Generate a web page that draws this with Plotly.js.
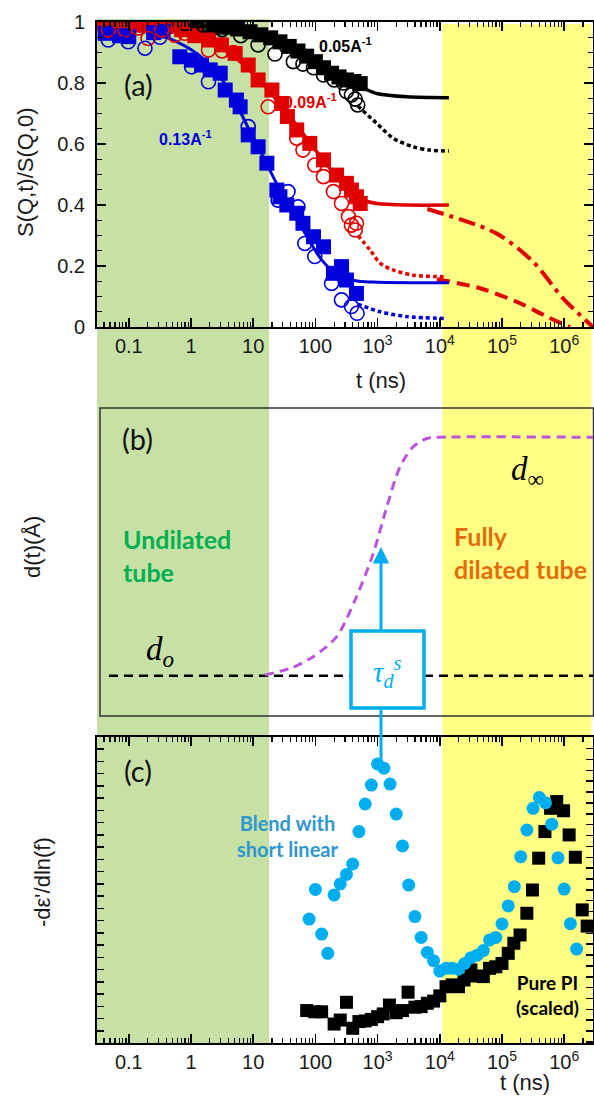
<!DOCTYPE html>
<html><head><meta charset="utf-8">
<script src="https://cdn.plot.ly/plotly-3.0.1.min.js"></script>
<style>html,body{margin:0;padding:0;background:#fff}#chart{width:594px;height:1097px}</style>
</head><body><div id="chart"></div>
<script>
// ---------- Panel (a): S(Q,t)/S(Q,0) ----------
const blackSqT = [0.0398,0.0708,0.126,0.224,0.398,0.708,1.26,2.24,3.55,5.62,8.91,13.2,19.1,26.9,38.0,52.5,72.4,100,135,182,240,316,417,525];
const blackSqV = [0.998,0.997,0.995,0.995,0.993,0.99,0.99,0.987,0.983,0.977,0.968,0.958,0.948,0.935,0.92,0.905,0.888,0.87,0.85,0.832,0.82,0.81,0.805,0.798];
const blackCiT = [0.794,1.58,3.16,6.31,12.0,22.4,44.2,63.1,93.3,135,200,282,316,380,437,479];
const blackCiV = [0.995,0.99,0.975,0.955,0.925,0.895,0.87,0.862,0.85,0.826,0.81,0.80,0.772,0.761,0.747,0.728];
const redSqT = [0.0398,0.0708,0.126,0.224,0.398,0.708,1.15,1.91,3.09,5.13,8.32,12.0,20.0,28.8,35.5,50.1,81.3,135,219,316,380,457,525];
const redSqV = [0.995,0.993,0.99,0.988,0.985,0.975,0.955,0.941,0.925,0.897,0.859,0.81,0.777,0.733,0.69,0.646,0.602,0.548,0.498,0.471,0.449,0.427,0.405];
const redCiT = [0.0468,0.0871,0.141,0.204,0.339,0.550,0.794,1.91,3.16,4.79,17.4,50.1,63.1,97.7,135,195,263,339,380,437,457];
const redCiV = [0.974,0.974,0.98,0.946,0.974,0.957,0.963,0.908,0.905,0.90,0.722,0.619,0.58,0.531,0.493,0.444,0.405,0.362,0.334,0.318,0.34];
const blueSqT = [0.0417,0.0708,0.1,0.251,0.355,0.661,1.02,1.48,2.04,2.95,3.55,5.37,6.17,8.32,12.0,16.6,24.0,26.9,34.7,50.1,63.1,93.3,135,195,263,316,457];
const blueSqV = [0.963,0.955,0.952,0.965,0.97,0.886,0.875,0.859,0.843,0.832,0.777,0.744,0.722,0.63,0.591,0.537,0.449,0.427,0.40,0.373,0.34,0.296,0.263,0.176,0.198,0.154,0.11];
const blueCiT = [0.0468,0.0977,0.182,0.316,1.02,1.91,8.32,25.1,36.3,52.5,67.6,97.7,182,263,380,468];
const blueCiV = [0.941,0.935,0.914,0.95,0.853,0.804,0.657,0.416,0.444,0.394,0.274,0.231,0.143,0.089,0.067,0.045];
// fit curves
const blackFitT = [0.03,1,10,30,100,200,400,630,1000,3000,14000];
const blackFitV = [0.998,0.99,0.965,0.935,0.87,0.83,0.80,0.78,0.765,0.755,0.752];
const blackDotT = [480,966,1780,3720,6920,14000];
const blackDotV = [0.725,0.668,0.619,0.591,0.58,0.577];
const redFitT = [0.03,0.3,1,3,10,30,100,250,500,1000,3000,14000];
const redFitV = [0.995,0.98,0.955,0.92,0.83,0.72,0.58,0.48,0.42,0.405,0.40,0.40];
const redDotT = [480,759,1100,1780,3720,11500];
const redDotV = [0.30,0.252,0.209,0.187,0.17,0.165];
const redDashT = [9000,44700,195000,525000,1230000];
const redDashV = [0.157,0.127,0.078,0.034,0];
const redDashDotT = [6300,81000,316000,950000,2900000];
const redDashDotV = [0.387,0.307,0.214,0.095,0];
const blueFitT = [0.03,0.1,0.3,1,2,4,8,16,32,63,126,250,500,1000,14000];
const blueFitV = [0.98,0.975,0.96,0.91,0.86,0.78,0.66,0.54,0.42,0.32,0.22,0.165,0.15,0.147,0.145];
const blueDotT = [480,1100,2950,13000];
const blueDotV = [0.075,0.05,0.034,0.028];

// ---------- Panel (b): d(t) ----------
const dtT = [15.5,26.9,43.6,93.3,219,457,851,1410,2290,3720,6170,10000,2900000];
const dtV = [0.133,0.145,0.158,0.193,0.257,0.387,0.528,0.68,0.809,0.874,0.901,0.905,0.905];
const d0T = [0.048,2900000];
const d0V = [0.131,0.131];

// ---------- Panel (c): -dε'/dln(f) ----------
const blendT = [79.4,100,126,158,200,251,316,398,501,631,794,1000,1259,1585,1995,2512,3162,3981,5012,6310,7943,10000,12600,15800,20000,25100,31600,39800,50100,63100,79400,100000,126000,158000,200000,251000,316000,398000,501000,631000,794000,1000000,1260000,1580000];
const blendV = [0.405,0.502,0.356,0.293,0.484,0.52,0.551,0.585,0.691,0.781,0.843,0.912,0.898,0.846,0.748,0.644,0.516,0.413,0.345,0.296,0.269,0.235,0.244,0.244,0.241,0.26,0.279,0.287,0.302,0.337,0.345,0.389,0.448,0.511,0.609,0.696,0.767,0.802,0.785,0.715,0.605,0.503,0.39,0.307];
const pureT = [72.4,97.7,126,200,251,316,398,501,631,794,1000,1230,1550,1995,2512,3090,3981,5012,6310,7943,10000,12600,15800,20000,24500,31600,38900,50100,63100,79400,100000,126000,155000,195000,251000,309000,389000,490000,603000,759000,977000,1200000,1510000,1950000,2340000];
const pureV = [0.106,0.102,0.102,0.062,0.075,0.133,0.048,0.07,0.072,0.077,0.086,0.095,0.124,0.099,0.106,0.166,0.117,0.119,0.13,0.137,0.154,0.184,0.19,0.184,0.206,0.239,0.219,0.217,0.244,0.249,0.26,0.293,0.326,0.353,0.424,0.50,0.604,0.691,0.767,0.789,0.759,0.68,0.607,0.435,0.382];

// shaded time windows
const greenSpan = [0.0308, 18];
const yellowSpan = [11000, 2750000];

// tick labels
const tickVals = [0.1,1,10,100,1000,10000,100000,1000000];
const tickText = ['0.1','1','10','100','10<sup>3</sup>','10<sup>4</sup>','10<sup>5</sup>','10<sup>6</sup>'];
const yTickVals = [0,0.2,0.4,0.6,0.8,1];
const yTickText = ['0','0.2','0.4','0.6','0.8','1'];

const minorVals = [];
for (let e = -2; e <= 6; e++) for (let m = 2; m <= 9; m++) minorVals.push(m * Math.pow(10, e));

// ---------- layout helpers ----------
const W = 594, H = 1097;
const X = p => p / W;
const Y = p => 1 - p / H;
const SANS = 'Liberation Sans, Arial, sans-serif';
const CAL = 'Lato, Open Sans, sans-serif';
const SERIF = 'Liberation Serif, Times New Roman, serif';
const CYAN = '#00aeef';
const RED = '#e00000';
const BLUE = '#0000dd';
const xRange = [-1.511, 6.463];
const xDom = [X(97), X(593)];

function xAxisCfg(anchor) {
  return {domain: xDom, anchor: anchor, type: 'log', range: xRange, showline: true, linecolor: '#000', linewidth: 2,
    mirror: 'ticks', ticks: 'inside', ticklen: 9, tickwidth: 1.5, tickcolor: '#000',
    tickmode: 'array', tickvals: tickVals, ticktext: tickText,
    tickfont: {family: SANS, size: 20, color: '#1a1a1a'},
    minor: {ticks: 'inside', ticklen: 5, tickwidth: 1.2, tickcolor: '#000', tickmode: 'array', tickvals: minorVals},
    showgrid: false, zeroline: false};
}

function sq(t, v, color, xa, ya, size) {
  return {x: t, y: v, xaxis: xa, yaxis: ya, mode: 'markers', type: 'scatter', showlegend: false,
    marker: {symbol: 'square', size: size || 15, color: color}};
}
function ci(t, v, color, xa, ya) {
  return {x: t, y: v, xaxis: xa, yaxis: ya, mode: 'markers', type: 'scatter', showlegend: false,
    marker: {symbol: 'circle-open', size: 14, color: color, line: {width: 1.6, color: color}}};
}
function ln(t, v, color, dash, width, xa, ya) {
  return {x: t, y: v, xaxis: xa || 'x', yaxis: ya || 'y', mode: 'lines', type: 'scatter', showlegend: false,
    line: {color: color, dash: dash, width: width, shape: 'spline', smoothing: 0.8}};
}

const traces = [
  ln(blackFitT, blackFitV, '#000', 'solid', 3.5),
  ln(blackDotT, blackDotV, '#000', '4px,3px', 3.5),
  ln(redFitT, redFitV, RED, 'solid', 3.5),
  ln(redDotT, redDotV, RED, '4px,3px', 3.5),
  ln(redDashT, redDashV, RED, '13px,7px', 4),
  ln(redDashDotT, redDashDotV, RED, '17px,6px,4px,6px', 4),
  ln(blueFitT, blueFitV, BLUE, 'solid', 3),
  ln(blueDotT, blueDotV, BLUE, '4px,3px', 3.5),
  sq(blackSqT, blackSqV, '#000', 'x', 'y'),
  sq(redSqT, redSqV, RED, 'x', 'y'),
  sq(blueSqT, blueSqV, BLUE, 'x', 'y'),
  ci(blackCiT, blackCiV, '#000', 'x', 'y'),
  ci(redCiT, redCiV, RED, 'x', 'y'),
  ci(blueCiT, blueCiV, BLUE, 'x', 'y'),
  // panel b
  {x: d0T, y: d0V, xaxis: 'x2', yaxis: 'y2', mode: 'lines', showlegend: false, line: {color: '#000', dash: '9px,6px', width: 2.5}},
  ln(dtT, dtV, '#bb55dd', '9px,6px', 3, 'x2', 'y2'),
  // panel c
  sq(pureT, pureV, '#000', 'x3', 'y3', 13),
  {x: blendT, y: blendV, xaxis: 'x3', yaxis: 'y3', mode: 'markers', showlegend: false, marker: {symbol: 'circle', size: 13, color: CYAN}},
  {x: [], y: [], xaxis: 'x3', yaxis: 'y4', mode: 'markers', showlegend: false}
];

const ann = (x, y, text, font, extra) => Object.assign({xref: 'paper', yref: 'paper', x: X(x), y: Y(y), text: text,
  showarrow: false, font: font, xanchor: 'center', yanchor: 'middle'}, extra || {});

const layout = {
  width: W, height: H, margin: {l: 0, r: 0, t: 0, b: 0}, showlegend: false,
  paper_bgcolor: '#fff', plot_bgcolor: 'rgba(0,0,0,0)',
  xaxis: xAxisCfg('y'),
  yaxis: {domain: [Y(327), Y(22)], anchor: 'x', range: [0, 1], showline: true, linecolor: '#000', linewidth: 2,
    mirror: 'ticks', ticks: 'inside', ticklen: 9, tickwidth: 1.5, tickcolor: '#000',
    tickmode: 'array', tickvals: yTickVals, ticktext: yTickText, ticklabelstandoff: 6,
    tickfont: {family: SANS, size: 20, color: '#1a1a1a'},
    minor: {ticks: 'inside', ticklen: 5, tickwidth: 1.2, tickcolor: '#000', dtick: 0.05, tick0: 0},
    showgrid: false, zeroline: false},
  xaxis2: {domain: xDom, anchor: 'y2', type: 'log', range: xRange, visible: false},
  yaxis2: {domain: [Y(716), Y(408)], anchor: 'x2', range: [0, 1], visible: false},
  xaxis3: xAxisCfg('y3'),
  yaxis3: {domain: [Y(1043), Y(737)], anchor: 'x3', range: [0, 1], showline: true, linecolor: '#000', linewidth: 2,
    mirror: true, ticks: 'inside', ticklen: 7, tickwidth: 1.5, tickcolor: '#000', tick0: 0, dtick: 0.04,
    showticklabels: false, showgrid: false, zeroline: false},
  yaxis4: {overlaying: 'y3', anchor: 'x3', side: 'right', range: [0, 1], showline: false, ticks: 'inside', ticklen: 7,
    tickwidth: 1.5, tickcolor: '#000', tick0: 0.039, dtick: 0.0355, showticklabels: false, showgrid: false, zeroline: false},
  shapes: [
    {type: 'rect', layer: 'below', xref: 'x', yref: 'paper', x0: greenSpan[0], x1: greenSpan[1], y0: Y(1043), y1: Y(19),
      fillcolor: '#c6e0a6', line: {width: 0}},
    {type: 'rect', layer: 'below', xref: 'x', yref: 'paper', x0: yellowSpan[0], x1: yellowSpan[1], y0: Y(1043), y1: Y(24),
      fillcolor: '#ffff85', line: {width: 0}},
    {type: 'rect', layer: 'below', xref: 'paper', yref: 'paper', x0: X(100), x1: X(593.5), y0: Y(716), y1: Y(408),
      line: {color: '#333', width: 1.5}},
    {type: 'line', layer: 'above', xref: 'paper', yref: 'paper', x0: X(381), x1: X(381), y0: Y(706), y1: Y(760),
      line: {color: CYAN, width: 3}},
    {type: 'rect', layer: 'above', xref: 'paper', yref: 'paper', x0: X(351), x1: X(424), y0: Y(708), y1: Y(631),
      fillcolor: '#fff', line: {color: CYAN, width: 3.5}}
  ],
  annotations: [
    // axis titles
    ann(25, 172, 'S(Q,t)/S(Q,0)', {family: SANS, size: 22, color: '#1a1a1a'}, {textangle: -90}),
    ann(381, 381, 't (ns)', {family: SANS, size: 22, color: '#1a1a1a'}),
    ann(32, 547, 'd(t)(Å)', {family: SANS, size: 22, color: '#1a1a1a'}, {textangle: -90}),
    ann(42, 882, "-dε'/dln(f)", {family: SANS, size: 22, color: '#1a1a1a'}, {textangle: -90}),
    ann(525, 1082, 't (ns)', {family: SANS, size: 22, color: '#1a1a1a'}),
    // panel labels
    ann(138, 84, '(a)', {family: CAL, size: 29, color: '#111'}),
    ann(137, 438, '(b)', {family: CAL, size: 29, color: '#111'}),
    ann(138, 770, '(c)', {family: CAL, size: 29, color: '#111'}),
    // Q labels
    ann(345, 45, '<b>0.05A<sup>-1</sup></b>', {family: SANS, size: 16, color: '#000'}),
    ann(310, 101, '<b>0.09A<sup>-1</sup></b>', {family: SANS, size: 16, color: RED}),
    ann(185, 138, '<b>0.13A<sup>-1</sup></b>', {family: SANS, size: 16, color: BLUE}),
    // panel b texts
    ann(121, 556, '<b>Undilated<br>tube</b>', {family: CAL, size: 25, color: '#00b050'}, {xanchor: 'left', align: 'left'}),
    ann(452, 552, '<b>Fully<br>dilated tube</b>', {family: CAL, size: 25, color: '#e46c0a'}, {xanchor: 'left', align: 'left'}),
    ann(160, 651, '<i>d</i><sub><i>o</i></sub>', {family: SERIF, size: 33, color: '#000'}),
    ann(527, 472, '<i>d</i><sub>∞</sub>', {family: SERIF, size: 33, color: '#000'}),
    ann(387, 672, '<i>τ</i><sub><i>d</i></sub><sup><i>s</i></sup>', {family: SERIF, size: 29, color: CYAN}),
    {xref: 'paper', yref: 'paper', x: X(381), y: Y(547), ax: 0, ay: 84, text: '', showarrow: true,
      arrowhead: 2, arrowsize: 1.1, arrowwidth: 3, arrowcolor: CYAN},
    // panel c texts
    ann(287, 836, '<b>Blend with<br>short linear</b>', {family: CAL, size: 20, color: '#2f97cc'}),
    ann(547, 995, '<b>Pure PI<br>(scaled)</b>', {family: CAL, size: 19, color: '#000'})
  ]
};

Plotly.newPlot('chart', traces, layout, {staticPlot: true, displayModeBar: false});
</script></body></html>
